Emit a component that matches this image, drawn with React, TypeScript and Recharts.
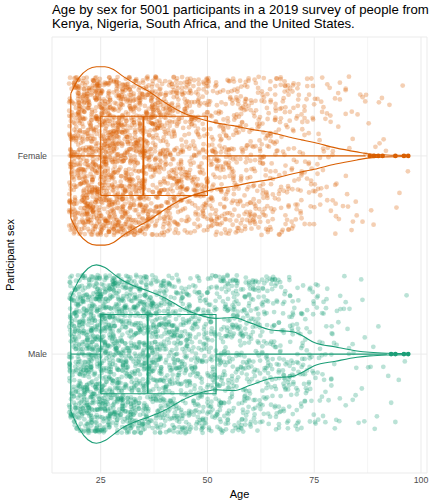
import { CartesianGrid, ReferenceLine, Scatter, ScatterChart, XAxis, YAxis } from "recharts";

const FEMALE = "#d95f02";
const MALE = "#1b9e77";
const FONT = "'Liberation Sans', Arial, sans-serif";

// participant counts per year of age, starting at 18
const startAge = 18;
const femaleCounts = [
  55, 62, 69, 72, 76, 77, 78, 78, 78, 77,
  76, 73, 70, 68, 66, 63, 62, 59, 57, 55,
  52, 49, 47, 45, 42, 40, 39, 37, 35, 33,
  33, 32, 31, 30, 29, 28, 27, 27, 26, 26,
  25, 25, 24, 23, 22, 22, 21, 20, 19, 18,
  17, 16, 15, 14, 13, 12, 11, 10, 9, 8,
  7, 7, 6, 5, 5, 4, 4, 3, 3, 3,
  2, 2, 2, 2, 1, 1, 1, 1, 1, 1,
];
const maleCounts = [
  50, 58, 66, 70, 75, 77, 78, 77, 76, 73,
  70, 68, 65, 63, 62, 60, 58, 57, 55, 54,
  52, 51, 49, 47, 45, 42, 40, 39, 37, 35,
  34, 33, 33, 32, 32, 32, 33, 33, 33, 32,
  31, 30, 29, 27, 25, 23, 22, 21, 21, 20,
  20, 19, 18, 17, 16, 14, 12, 11, 10, 9,
  8, 7, 6, 5, 4, 4, 3, 3, 3, 2,
  2, 2, 2, 1, 1, 1, 1, 1, 1, 1,
];

// violin density (percent of the widest point)
const violinAges = [18, 20, 22, 24, 26, 28, 30, 33, 36, 40, 44, 48, 52, 56, 60, 65, 70, 72, 75, 80, 85, 88, 92, 97];
const femaleDensity = [70, 88, 97, 100, 100, 97, 90, 81, 73, 60, 49, 42, 37, 34, 30, 26, 20, 18, 15, 9, 4.5, 2.2, 1.1, 0.6];
const maleDensity = [64, 84, 96, 100, 97, 90, 83, 76, 71, 63, 52, 44, 40, 41, 35, 27, 25, 21, 13, 8, 3.5, 2, 1, 0.6];

// lower whisker, Q1, median, Q3, upper whisker
const femaleBox = [18, 25, 35, 50, 87];
const maleBox = [18, 25, 36, 52, 92];
const femaleOutliers = [88, 89, 90, 91, 94, 96, 97];
const maleOutliers = [93, 94, 96, 97];

const sexLabels = ["", "Male", "Female"];
const ageTicks = [25, 50, 75, 100];
const minorTicks = [37.5, 62.5, 87.5];

// deterministic jitter, like position_jitter(width = 0.4, height = 0.4)
function hash(n: number) {
  let t = (n + 0x6d2b79f5) | 0;
  t = Math.imul(t ^ (t >>> 15), t | 1);
  t ^= t + Math.imul(t ^ (t >>> 7), t | 61);
  return ((t ^ (t >>> 14)) >>> 0) / 4294967296;
}

function jitter(counts: number[], center: number, seed: number) {
  const pts: { x: number; y: number }[] = [];
  let k = seed;
  counts.forEach((n, i) => {
    for (let j = 0; j < n; j++) {
      k += 2;
      pts.push({
        x: startAge + i + (hash(k) - 0.5) * 0.8,
        y: center + (hash(k + 1) - 0.5) * 0.8,
      });
    }
  });
  return pts;
}

const half = (dens: number[], center: number, sign: number) =>
  violinAges.map((a, i) => ({ x: a, y: center + sign * (dens[i] / 100) * 0.45 }));

const edge = (dens: number[], center: number) => [
  { x: violinAges[0], y: center - (dens[0] / 100) * 0.45 },
  { x: violinAges[0], y: center + (dens[0] / 100) * 0.45 },
];

const boxRect = (b: number[], c: number) => [
  { x: b[1], y: c - 0.2 },
  { x: b[3], y: c - 0.2 },
  { x: b[3], y: c + 0.2 },
  { x: b[1], y: c + 0.2 },
  { x: b[1], y: c - 0.2 },
];

const noShape = () => <g />;
const dot = (color: string, opacity: number) => (p: any) => (
  <circle cx={p.cx} cy={p.cy} r={2.4} fill={color} fillOpacity={opacity} />
);

function Group({ counts, dens, box, outliers, center, color, seed }: any) {
  const ln = { stroke: color, strokeWidth: 1.1 };
  return [
    <Scatter key={`pts${center}`} data={jitter(counts, center, seed)} shape={dot(color, 0.3)} isAnimationActive={false} />,
    <Scatter key={`vu${center}`} data={half(dens, center, 1)} shape={noShape} line={ln} lineJointType="monotoneX" isAnimationActive={false} />,
    <Scatter key={`vl${center}`} data={half(dens, center, -1)} shape={noShape} line={ln} lineJointType="monotoneX" isAnimationActive={false} />,
    <Scatter key={`ve${center}`} data={edge(dens, center)} shape={noShape} line={ln} isAnimationActive={false} />,
    <Scatter key={`wl${center}`} data={[{ x: box[0], y: center }, { x: box[1], y: center }]} shape={noShape} line={ln} isAnimationActive={false} />,
    <Scatter key={`wr${center}`} data={[{ x: box[3], y: center }, { x: box[4], y: center }]} shape={noShape} line={ln} isAnimationActive={false} />,
    <Scatter key={`box${center}`} data={boxRect(box, center)} shape={noShape} line={ln} isAnimationActive={false} />,
    <Scatter key={`med${center}`} data={[{ x: box[2], y: center - 0.2 }, { x: box[2], y: center + 0.2 }]} shape={noShape} line={{ stroke: color, strokeWidth: 2 }} isAnimationActive={false} />,
    <Scatter key={`out${center}`} data={outliers.map((a: number) => ({ x: a, y: center }))} shape={dot(color, 1)} isAnimationActive={false} />,
  ];
}

export default function App() {
  return (
    <div style={{ position: "absolute", left: 0, top: 0, width: 432, height: 504, background: "#fff", fontFamily: FONT }}>
      <div style={{ position: "absolute", left: 52, top: 3, fontSize: 13.2, lineHeight: "13.5px", color: "#000", whiteSpace: "nowrap" }}>
        Age by sex for 5001 participants in a 2019 survey of people from
        <br />
        Kenya, Nigeria, South Africa, and the United States.
      </div>
      <ScatterChart width={432} height={504} margin={{ top: 37, right: 5, bottom: 0, left: 0 }}>
        <CartesianGrid stroke="#ebebeb" strokeWidth={1} />
        {minorTicks.map((t) => (
          <ReferenceLine key={t} x={t} stroke="#ebebeb" strokeWidth={0.5} />
        ))}
        <XAxis
          type="number"
          dataKey="x"
          domain={[13.6, 101.4]}
          ticks={ageTicks}
          allowDataOverflow
          axisLine={false}
          tickLine={false}
          tickSize={3}
          tickMargin={1}
          height={31}
          tick={{ fontSize: 8.8, fill: "#4d4d4d", fontFamily: FONT }}
          label={{ value: "Age", position: "insideBottom", offset: 6, fontSize: 11, fill: "#000", fontFamily: FONT }}
        />
        <YAxis
          type="number"
          dataKey="y"
          domain={[0.4, 2.6]}
          ticks={[1, 2]}
          tickFormatter={(v: number) => sexLabels[v]}
          allowDataOverflow
          axisLine={false}
          tickLine={false}
          tickSize={3}
          tickMargin={2}
          width={52}
          tick={{ fontSize: 8.8, fill: "#4d4d4d", fontFamily: FONT }}
          label={{ value: "Participant sex", angle: -90, position: "insideLeft", offset: 10, fontSize: 11, fill: "#000", fontFamily: FONT, style: { textAnchor: "middle" } }}
        />
        {Group({ counts: femaleCounts, dens: femaleDensity, box: femaleBox, outliers: femaleOutliers, center: 2, color: FEMALE, seed: 1 })}
        {Group({ counts: maleCounts, dens: maleDensity, box: maleBox, outliers: maleOutliers, center: 1, color: MALE, seed: 20001 })}
      </ScatterChart>
    </div>
  );
}
